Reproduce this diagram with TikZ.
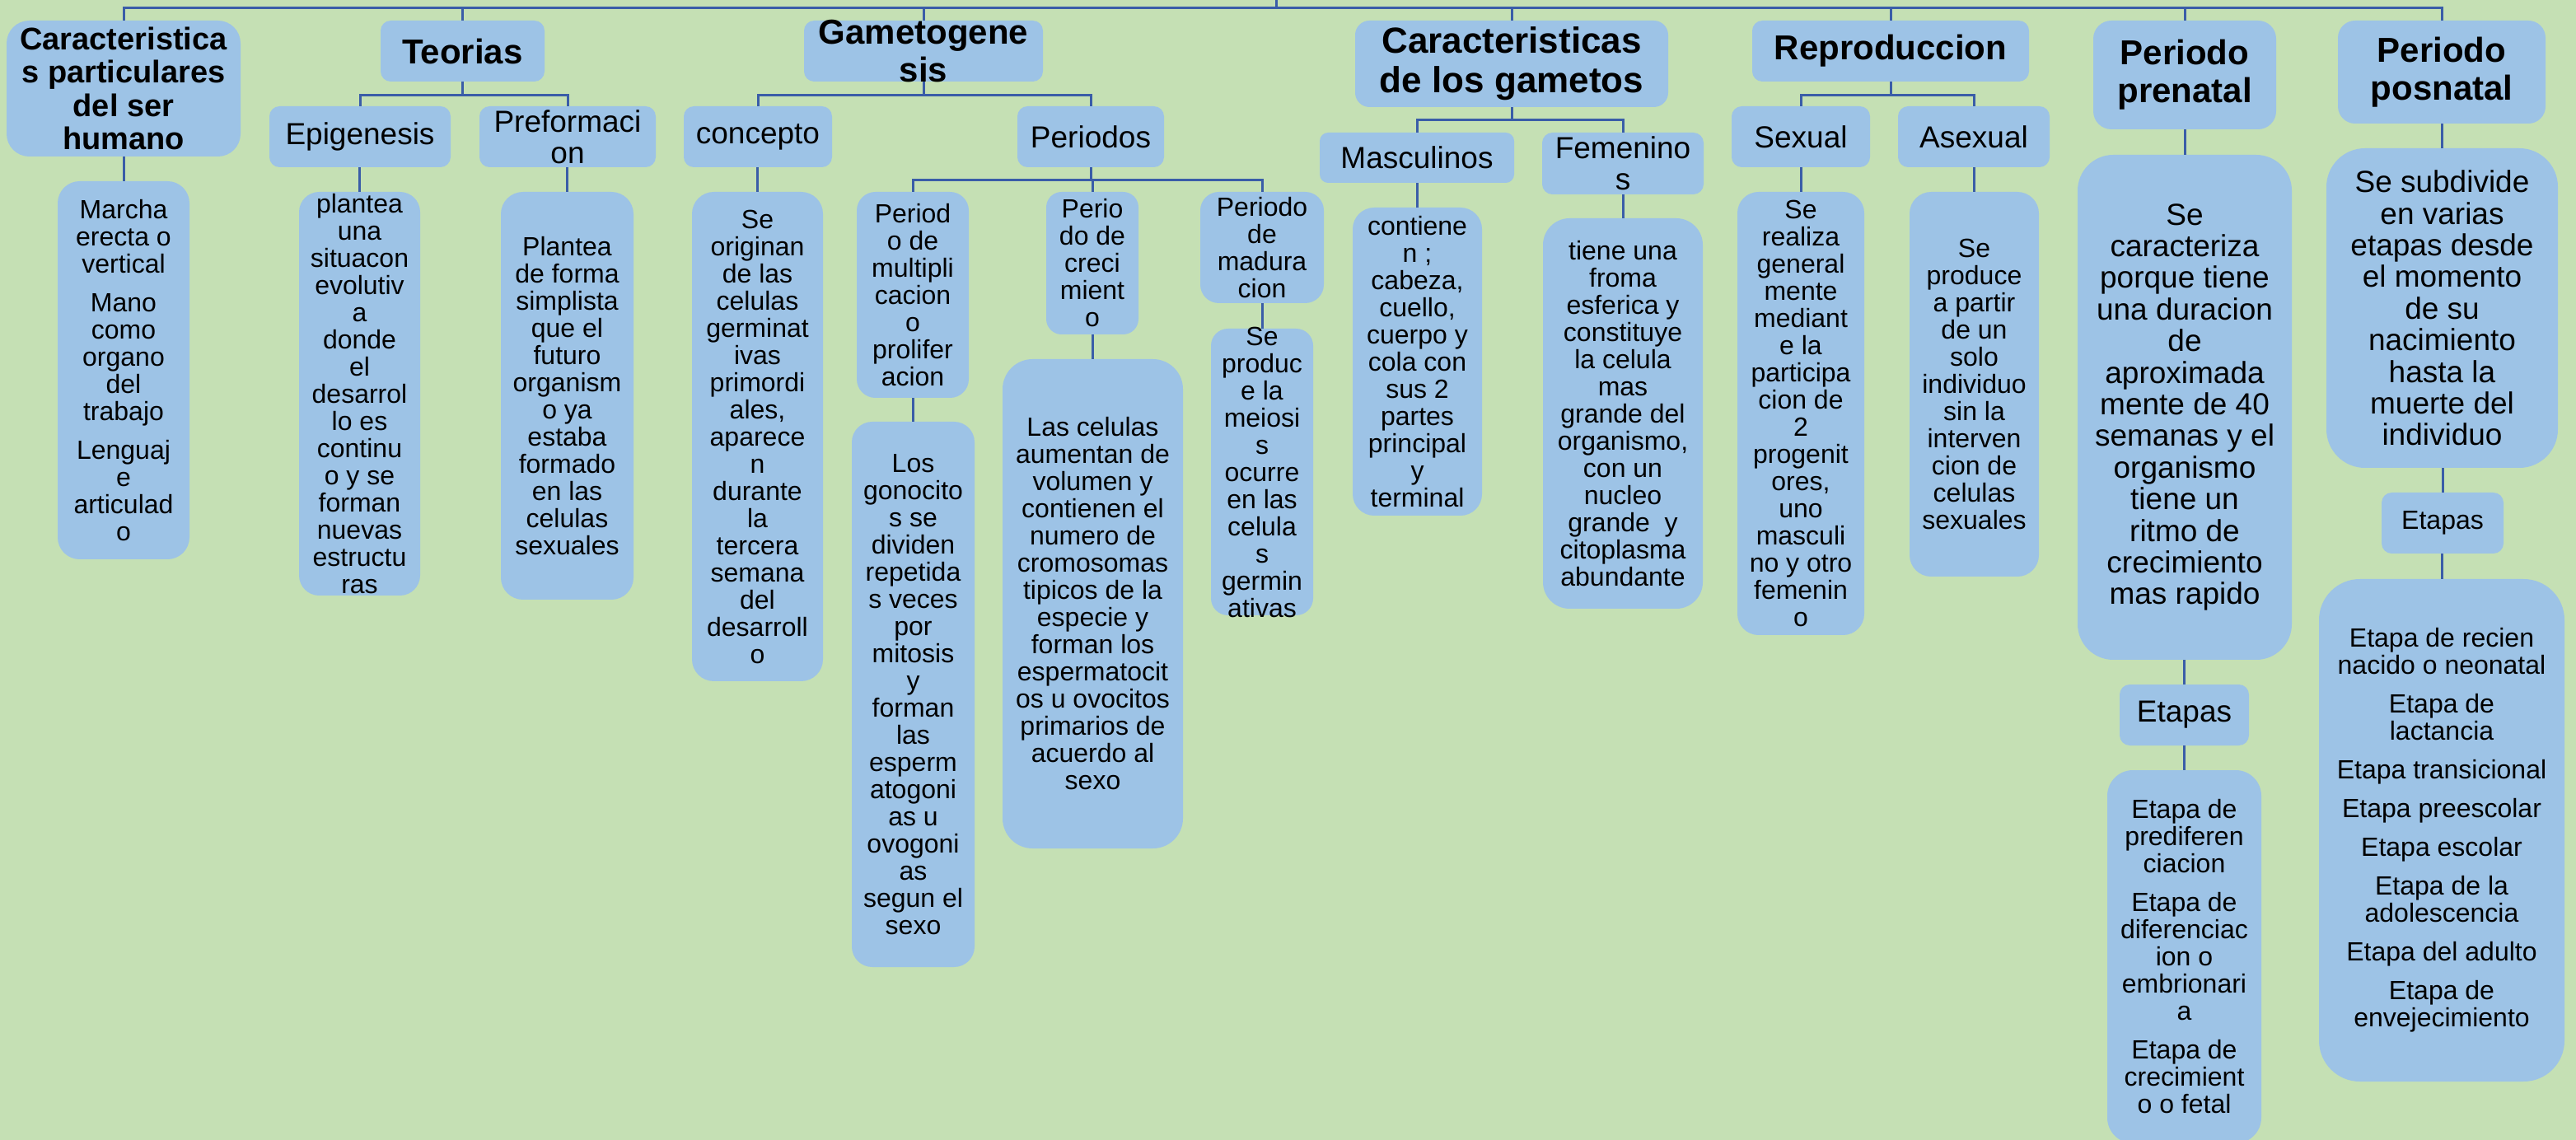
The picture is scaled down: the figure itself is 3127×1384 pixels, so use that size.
\documentclass[tikz,border=0pt]{standalone}
\usepackage{fontspec}
\setmainfont{Liberation Sans}
\definecolor{bgc}{RGB}{197,224,180}
\definecolor{boxc}{RGB}{157,195,230}
\definecolor{linec}{RGB}{58,93,168}
\tikzset{
  bxs/.style={fill=boxc, draw=none, inner sep=0pt, rectangle},
  body/.style={font=\fontsize{16}{16.5}\selectfont, align=center, inner sep=0pt, text=black},
  mid/.style={font=\fontsize{18.5}{19.2}\selectfont, align=center, inner sep=0pt, text=black},
  head/.style={font=\bfseries\fontsize{21}{23}\selectfont, align=center, inner sep=0pt, text=black},
  heads/.style={font=\bfseries\fontsize{19}{20.3}\selectfont, align=center, inner sep=0pt, text=black},
  headl/.style={font=\bfseries\fontsize{22}{24}\selectfont, align=center, inner sep=0pt, text=black},
  conn/.style={draw=linec, line width=1.5pt}
}
% name, x1, y1, x2, y2, text style, text   (pixel coordinates, y downward)
\newcommand\mkbox[7]{%
  \pgfmathsetmacro\bcx{(#2+#4)/2}%
  \pgfmathsetmacro\bcy{(#3+#5)/2}%
  \pgfmathsetmacro\bww{(#4-#2)/2}%
  \pgfmathsetmacro\bhh{(#5-#3)/2}%
  \pgfmathsetmacro\brr{min(\bww,\bhh)*0.16667}%
  \node[bxs, minimum width=\bww pt, minimum height=\bhh pt, rounded corners=\brr pt,
        label={[#6]center:{#7}}] (#1) at (\bcx,\bcy) {};%
}
\begin{document}
\begin{tikzpicture}[x=0.5pt,y=-0.5pt]
\fill[bgc] (0,0) rectangle (3127,1384);
\useasboundingbox (0,0) rectangle (3127,1384);

% top level
\mkbox{car}{8}{25}{292}{190}{heads}{Caracteristica\\s particulares\\del ser\\humano}
\mkbox{teo}{462}{25}{661}{99}{head}{Teorias}
\mkbox{gam}{976}{25}{1266}{99}{head}{Gametogene\\sis}
\mkbox{cgm}{1645}{25}{2025}{130}{headl}{Caracteristicas\\de los gametos}
\mkbox{rep}{2127}{25}{2463}{99}{head}{Reproduccion}
\mkbox{pre}{2541}{25}{2763}{157}{head}{Periodo\\prenatal}
\mkbox{pos}{2838}{25}{3090}{150}{head}{Periodo\\posnatal}

% second level
\mkbox{epi}{327}{129}{547}{203}{mid}{Epigenesis}
\mkbox{pref}{582}{129}{796}{203}{mid}{Preformaci\\on}
\mkbox{con}{830}{129}{1010}{203}{mid}{concepto}
\mkbox{per}{1235}{129}{1413}{203}{mid}{Periodos}
\mkbox{mas}{1602}{161}{1838}{222}{mid}{Masculinos}
\mkbox{fem}{1872}{161}{2068}{236}{mid}{Femenino\\s}
\mkbox{sex}{2102}{129}{2270}{203}{mid}{Sexual}
\mkbox{asx}{2304}{129}{2488}{203}{mid}{Asexual}

% periodos of gametogenesis
\mkbox{pmul}{1040}{233}{1176}{483}{body}{Period\\o de\\multipli\\cacion\\o\\prolifer\\acion}
\mkbox{pcre}{1270}{233}{1382}{406}{body}{Perio\\do de\\creci\\mient\\o}
\mkbox{pmad}{1457}{233}{1607}{368}{body}{Periodo\\de\\madura\\cion}

% leaves
\mkbox{carc}{70}{220}{230}{679}{body}{Marcha\\erecta o\\vertical\\[7pt]Mano\\como\\organo\\del\\trabajo\\[7pt]Lenguaj\\e\\articulad\\o}
\mkbox{epic}{363}{233}{510}{723}{body}{plantea\\una\\situacon\\evolutiv\\a\\donde\\el\\desarrol\\lo es\\continu\\o y se\\forman\\nuevas\\estructu\\ras}
\mkbox{prefc}{608}{233}{769}{728}{body}{Plantea\\de forma\\simplista\\que el\\futuro\\organism\\o ya\\estaba\\formado\\en las\\celulas\\sexuales}
\mkbox{conc}{840}{233}{999}{827}{body}{Se\\originan\\de las\\celulas\\germinat\\ivas\\primordi\\ales,\\aparece\\n\\durante\\la\\tercera\\semana\\del\\desarroll\\o}
\mkbox{pmulc}{1034}{512}{1183}{1174}{body}{Los\\gonocito\\s se\\dividen\\repetida\\s veces\\por\\mitosis\\y\\forman\\las\\esperm\\atogoni\\as u\\ovogoni\\as\\segun el\\sexo}
\mkbox{pcrec}{1217}{436}{1436}{1030}{body}{Las celulas\\aumentan de\\volumen y\\contienen el\\numero de\\cromosomas\\tipicos de la\\especie y\\forman los\\espermatocit\\os u ovocitos\\primarios de\\acuerdo al\\sexo}
\mkbox{pmadc}{1470}{399}{1594}{747}{body}{Se\\produc\\e la\\meiosi\\s\\ocurre\\en las\\celula\\s\\germin\\ativas}
\mkbox{masc}{1642}{252}{1799}{626}{body}{contiene\\n ;\\cabeza,\\cuello,\\cuerpo y\\cola con\\sus 2\\partes\\principal\\y\\terminal}
\mkbox{femc}{1873}{265}{2067}{739}{body}{tiene una\\froma\\esferica y\\constituye\\la celula\\mas\\grande del\\organismo,\\con un\\nucleo\\grande~ y\\citoplasma\\abundante}
\mkbox{sexc}{2109}{233}{2263}{771}{body}{Se\\realiza\\general\\mente\\mediant\\e la\\participa\\cion de\\2\\progenit\\ores,\\uno\\masculi\\no y otro\\femenin\\o}
\mkbox{asxc}{2318}{233}{2475}{700}{body}{Se\\produce\\a partir\\de un\\solo\\individuo\\sin la\\interven\\cion de\\celulas\\sexuales}
\mkbox{prec}{2522}{188}{2782}{801}{mid}{Se\\caracteriza\\porque tiene\\una duracion\\de\\aproximada\\mente de 40\\semanas y el\\organismo\\tiene un\\ritmo de\\crecimiento\\mas rapido}
\mkbox{posc}{2824}{180}{3105}{568}{mid}{Se subdivide\\en varias\\etapas desde\\el momento\\de su\\nacimiento\\hasta la\\muerte del\\individuo}
\mkbox{et1}{2573}{831}{2730}{905}{mid}{Etapas}
\mkbox{et2}{2891}{598}{3039}{672}{body}{Etapas}
\mkbox{et1c}{2558}{935}{2745}{1388}{body}{Etapa de\\prediferen\\ciacion\\[7pt]Etapa de\\diferenciac\\ion o\\embrionari\\a\\[7pt]Etapa de\\crecimient\\o o fetal}
\mkbox{et2c}{2815}{703}{3113}{1313}{body}{Etapa de recien\\nacido o neonatal\\[7pt]Etapa de\\lactancia\\[7pt]Etapa transicional\\[7pt]Etapa preescolar\\[7pt]Etapa escolar\\[7pt]Etapa de la\\adolescencia\\[7pt]Etapa del adulto\\[7pt]Etapa de\\envejecimiento}

% top bus
\coordinate (rootend) at (1549,0);
\coordinate (bus) at (1549,9.5);
\draw[conn] (rootend) -- (bus);
\draw[conn] (car.north) -- (car.north |- bus) -- (pos.north |- bus) -- (pos.north);
\foreach \n in {teo,gam,cgm,rep,pre}{\draw[conn] (\n.north) -- (\n.north |- bus);}

% branches
\draw[conn] (teo.south) -- ++(0,16) -| (epi.north);
\draw[conn] (teo.south) -- ++(0,16) -| (pref.north);
\draw[conn] (gam.south) -- ++(0,16) -| (con.north);
\draw[conn] (gam.south) -- ++(0,16) -| (per.north);
\draw[conn] (per.south) -- ++(0,15) -| (pmul.north);
\draw[conn] (per.south) -- ++(0,15) -| (pcre.north);
\draw[conn] (per.south) -- ++(0,15) -| (pmad.north);
\draw[conn] (cgm.south) -- ++(0,15) -| (mas.north);
\draw[conn] (cgm.south) -- ++(0,15) -| (fem.north);
\draw[conn] (rep.south) -- ++(0,16) -| (sex.north);
\draw[conn] (rep.south) -- ++(0,16) -| (asx.north);

% single links
\draw[conn] (carc.north) -- (carc.north |- car.south);
\draw[conn] (epic.north) -- (epic.north |- epi.south);
\draw[conn] (prefc.north) -- (prefc.north |- pref.south);
\draw[conn] (conc.north) -- (conc.north |- con.south);
\draw[conn] (pmulc.north) -- (pmulc.north |- pmul.south);
\draw[conn] (pcrec.north) -- (pcrec.north |- pcre.south);
\draw[conn] (pmadc.north) -- (pmadc.north |- pmad.south);
\draw[conn] (masc.north) -- (masc.north |- mas.south);
\draw[conn] (femc.north) -- (femc.north |- fem.south);
\draw[conn] (sexc.north) -- (sexc.north |- sex.south);
\draw[conn] (asxc.north) -- (asxc.north |- asx.south);
\draw[conn] (prec.north) -- (prec.north |- pre.south);
\draw[conn] (posc.north) -- (posc.north |- pos.south);
\draw[conn] (et1.north) -- (et1.north |- prec.south);
\draw[conn] (et1c.north) -- (et1c.north |- et1.south);
\draw[conn] (et2.north) -- (et2.north |- posc.south);
\draw[conn] (et2c.north) -- (et2c.north |- et2.south);
\end{tikzpicture}
\end{document}
